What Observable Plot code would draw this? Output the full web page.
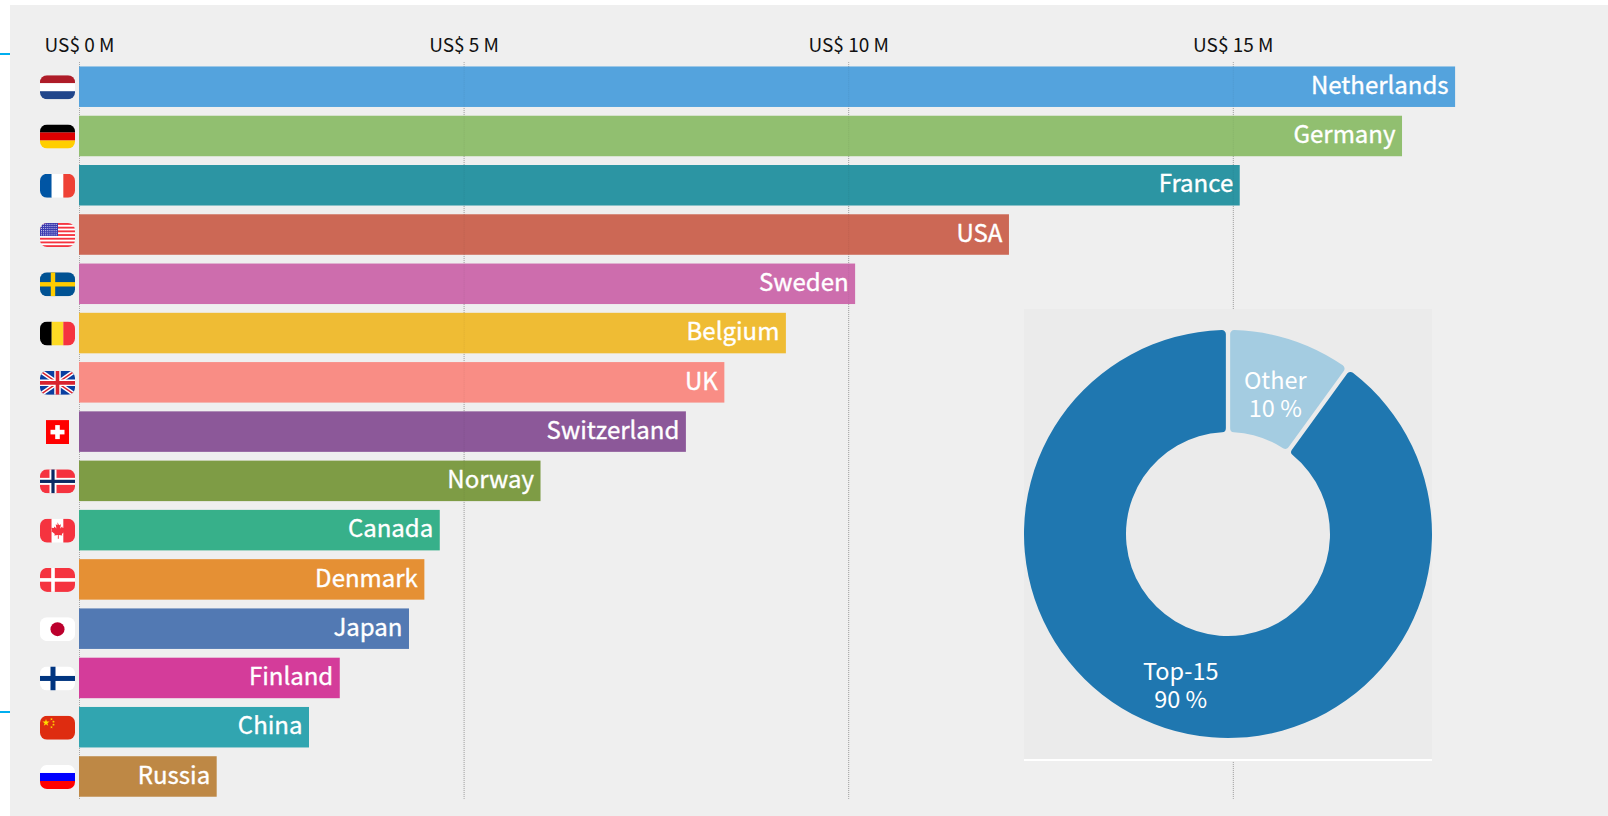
<!DOCTYPE html>
<html lang="en">
<head>
<meta charset="utf-8">
<title>Top-15 countries</title>
<script src="https://cdn.jsdelivr.net/npm/d3@7"></script>
<script src="https://cdn.jsdelivr.net/npm/@observablehq/plot@0.6"></script>
<style>
  html, body { margin: 0; padding: 0; background: #fff; width: 1608px; height: 816px; overflow: hidden; }
  body { position: relative; font-family: "Noto Sans CJK SC", "Noto Sans", sans-serif; }
  #sheet { position: absolute; left: 10px; top: 5px; right: 0; bottom: 0; background: #efefef; }
  .notch { position: absolute; left: 0; width: 10px; height: 2px; background: #00aeef; }
  #bars { position: absolute; left: 0; top: 0; }
  #share { position: absolute; left: 1024px; top: 309px; width: 408px; height: 450px; border-bottom: 2px solid #fff; }
  svg { display: block; }
</style>
</head>
<body>
<div id="sheet"></div>
<div class="notch" style="top:53px"></div>
<div class="notch" style="top:711px"></div>
<div id="bars"></div>
<div id="share"></div>
<script>
// Ranking, in millions of US dollars
const countries = ["Netherlands", "Germany", "France", "USA", "Sweden", "Belgium", "UK", "Switzerland",
  "Norway", "Canada", "Denmark", "Japan", "Finland", "China", "Russia"];
const valuesM = [17.89, 17.2, 15.09, 12.09, 10.09, 9.19, 8.39, 7.89, 6.0, 4.69, 4.49, 4.29, 3.39, 2.99, 1.79];
const barColors = ["#54a3dd", "#91bf70", "#2c95a3", "#cc6855", "#cd6dad", "#efbc34", "#f98d85", "#8c5899",
  "#7e9c45", "#37b08a", "#e59034", "#5279b3", "#d43c9a", "#31a5b0", "#be8845"];
const axisTicks = [0, 5, 10, 15];

// Share of the total held by the ranked countries
const shareLabels = ["Other", "Top-15"];
const sharePercents = [10, 90];
const shareColors = ["#a4cce1", "#1f77b0"];

const bands = (c, ...cols) => cols.map((f, i) => `<rect y="${i * 24 / cols.length}" width="35" height="${24 / cols.length + .1}" fill="${f}"/>`).join("");
const pillars = (...cols) => cols.map((f, i) => `<rect x="${i * 35 / cols.length}" width="${35 / cols.length + .1}" height="24" fill="${f}"/>`).join("");
const nordic = (bg, out, inn, w) =>
  `<rect width="35" height="24" fill="${bg}"/>` +
  (out ? `<rect x="${9.5}" width="7" height="24" fill="${out}"/><rect y="8.5" width="35" height="7" fill="${out}"/>` : "") +
  `<rect x="${13 - w / 2}" width="${w}" height="24" fill="${inn}"/><rect y="${12 - w / 2}" width="35" height="${w}" fill="${inn}"/>`;

function usFlag() {
  let s = `<rect width="35" height="24" fill="#fff"/>`;
  for (let i = 0; i < 13; i += 2) s += `<rect y="${i * 24 / 13}" width="35" height="${24 / 13}" fill="#f5333f"/>`;
  s += `<rect width="18" height="13" fill="#3c3bb0"/>`;
  for (let r = 0; r < 6; r++) for (let k = 0; k < 8; k++) s += `<circle cx="${1.5 + k * 2.1}" cy="${1.3 + r * 2.1}" r=".55" fill="#d8d8f5"/>`;
  return s;
}
function cnFlag() {
  const star = (x, y, a) => `<path transform="translate(${x},${y})" d="${d3.symbol(d3.symbolStar, a)()}" fill="#ffde00"/>`;
  return `<rect width="35" height="24" fill="#de2c10"/>` + star(6, 7, 16) + star(11.5, 3.5, 2.5) + star(13.5, 6, 2.5) + star(13.5, 9, 2.5) + star(11.5, 11.5, 2.5);
}
const mapleLeaf = "M17.5 3.5l1.6 3 1.8-.9-.7 4.3 2-2 .5 1.5 2.6-.4-.8 2.8 1 .6-3.7 3 .5 1.5-3.6-.5.1 3.6h-1l.1-3.6-3.6.5.5-1.5-3.7-3 1-.6-.8-2.8 2.6.4.5-1.5 2 2-.7-4.3 1.8.9z";

// Small rounded flag artwork for each country
const flagArt = {
  Netherlands: bands(0, "#ae1c28", "#ffffff", "#21468b"),
  Germany: bands(0, "#000000", "#dd0000", "#ffce00"),
  France: pillars("#0055a4", "#ffffff", "#ef4135"),
  USA: usFlag(),
  Sweden: nordic("#005293", null, "#fecc00", 4.4),
  Belgium: pillars("#000000", "#fdda24", "#f5333f"),
  UK: `<rect width="35" height="24" fill="#0a3ea0"/>
       <path d="M0 0L35 24M35 0L0 24" stroke="#fff" stroke-width="4.4"/>
       <path d="M0 0L35 24M35 0L0 24" stroke="#d8232f" stroke-width="1.5"/>
       <path d="M17.5 0V24M0 12H35" stroke="#fff" stroke-width="6.5"/>
       <path d="M17.5 0V24M0 12H35" stroke="#d8232f" stroke-width="3.6"/>`,
  Switzerland: `<rect x="6" width="23" height="24" fill="#ff0000"/><rect x="15.2" y="5" width="4.6" height="14" fill="#fff"/><rect x="10.5" y="9.7" width="14" height="4.6" fill="#fff"/>`,
  Norway: nordic("#f5333f", "#ffffff", "#0b2a63", 3.2),
  Canada: pillars("#f5333f", "#ffffff", "#f5333f") + `<path d="${mapleLeaf}" fill="#f5333f"/>`,
  Denmark: nordic("#f5333f", null, "#ffffff", 3.6),
  Japan: `<rect width="35" height="24" fill="#fff"/><circle cx="17.5" cy="12" r="7" fill="#bc002d"/>`,
  Finland: nordic("#ffffff", null, "#003580", 5),
  China: cnFlag(),
  Russia: bands(0, "#ffffff", "#0000ff", "#ff0000")
};
const flagSrc = name => {
  const corner = name === "Switzerland" ? 0 : 7;
  const svg = `<svg xmlns="http://www.w3.org/2000/svg" width="35" height="24" viewBox="0 0 35 24"><defs><clipPath id="c"><rect width="35" height="24" rx="${corner}"/></clipPath></defs><g clip-path="url(#c)">${flagArt[name]}</g></svg>`;
  return "data:image/svg+xml;charset=utf-8," + encodeURIComponent(svg);
};

const rows = countries.map((name, i) => ({name, value: valuesM[i], color: barColors[i]}));

const barChart = Plot.plot({
  width: 1608, height: 816,
  marginLeft: 79, marginRight: 0, marginTop: 57.7, marginBottom: 10.5,
  style: {background: "transparent", fontFamily: '"Noto Sans CJK SC", "Noto Sans", sans-serif'},
  x: {domain: [0, 1529 / 76.92], axis: null},
  y: {domain: countries, padding: 0.178, round: false, axis: null},
  marks: [
    Plot.ruleX(axisTicks, {stroke: "#a8a8a8", strokeDasharray: "1 1", insetTop: 4.3, insetBottom: 5.5}),
    Plot.barX(rows, {x: "value", y: "name", fill: d => d.color}),
    Plot.ruleX(axisTicks.slice(1), {stroke: "#000", strokeOpacity: 0.07, strokeDasharray: "1 1", insetTop: 8, insetBottom: 9}),
    Plot.axisX({
      anchor: "top", ticks: axisTicks, tickSize: 0, tickPadding: 6, label: null,
      tickFormat: d => `US$ ${d} M`, fontSize: 19, fill: "#111"
    }),
    Plot.text(rows, {x: "value", y: "name", text: "name", textAnchor: "end", dx: -7, dy: -1,
      fill: "#fff", stroke: "#fff", strokeWidth: 0.35, fontSize: 24}),
    Plot.image(rows, {x: () => 0, y: "name", src: d => flagSrc(d.name), width: 35, height: 24, dx: -22})
  ]
});
document.getElementById("bars").append(barChart);

// Donut inset: slices start at twelve o'clock, smaller share first
const outerR = 204, innerR = 102;
const pieSlices = d3.pie().sort(null).value(d => d.share)(
  shareLabels.map((label, i) => ({label, share: sharePercents[i], color: shareColors[i]}))
);
const sliceArc = d3.arc().innerRadius(innerR).outerRadius(outerR)
  .padAngle(0.021).padRadius(outerR).cornerRadius(4);
const sliceLabels = pieSlices.map(s => {
  const [cx, cy] = sliceArc.centroid(s);
  return {x: cx - 0.5, y: cy + 5, text: `${s.data.label}\n${s.data.share} %`};
});

const donut = Plot.plot({
  width: 408, height: 450, margin: 0,
  style: {background: "#ebebeb", fontFamily: '"Noto Sans CJK SC", "Noto Sans", sans-serif'},
  x: {domain: [-outerR, outerR], axis: null},
  y: {domain: [-225, 225], range: [0, 450], axis: null},
  marks: [
    (index, {x, y}) => {
      const g = d3.create("svg:g").attr("transform", `translate(${x(0)},${y(0)})`);
      g.selectAll("path").data(pieSlices).join("path")
        .attr("d", sliceArc).attr("fill", d => d.data.color);
      return g.node();
    },
    Plot.text(sliceLabels, {x: "x", y: "y", text: "text", fill: "#fff", fontSize: 23.5, lineHeight: 1.17})
  ]
});
document.getElementById("share").append(donut);
</script>
</body>
</html>
